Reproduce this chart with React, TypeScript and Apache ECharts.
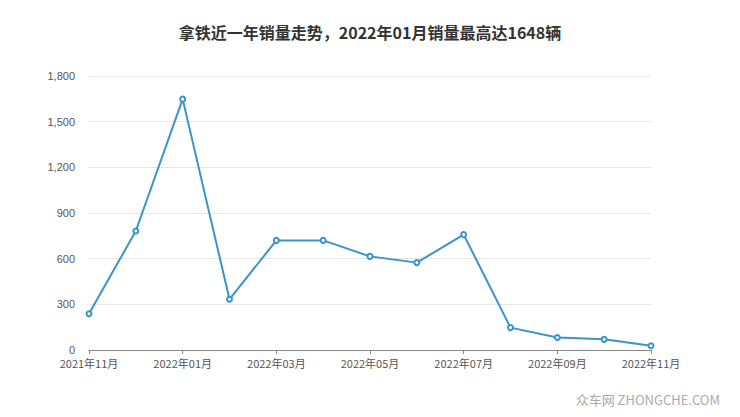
import React, { useEffect, useRef } from "react";
import * as echarts from "echarts";

const months = [
  "2021年11月", "2021年12月", "2022年01月", "2022年02月", "2022年03月", "2022年04月",
  "2022年05月", "2022年06月", "2022年07月", "2022年08月", "2022年09月", "2022年10月", "2022年11月",
];
const sales = [238, 782, 1648, 333, 720, 720, 615, 574, 758, 147, 82, 70, 28];
const titleText = "拿铁近一年销量走势，2022年01月销量最高达1648辆";
const watermark = "众车网 ZHONGCHE.COM";

export default function App() {
  const ref = useRef<HTMLDivElement>(null);
  useEffect(() => {
    if (!ref.current) return;
    const chart = echarts.init(ref.current, undefined, { renderer: "svg" });
    chart.setOption({
      animation: false,
      backgroundColor: "#fff",
      title: {
        text: titleText,
        left: "center",
        top: 19,
        textStyle: { fontSize: 16, fontWeight: "bold", color: "#333", fontFamily: "Noto Sans CJK SC" },
      },
      grid: { left: 89, right: 89, top: 76, bottom: 67 },
      xAxis: {
        type: "category",
        data: months,
        boundaryGap: false,
        axisLine: { lineStyle: { color: "#888" } },
        axisTick: { alignWithLabel: true, interval: 1, length: 4 },
        axisLabel: { interval: 1, color: "#555", fontSize: 11, fontFamily: "Noto Sans CJK SC", margin: 7, lineHeight: 12 },
      },
      yAxis: {
        type: "value",
        min: 0,
        max: 1800,
        interval: 300,
        axisLine: { show: false },
        axisTick: { show: false },
        axisLabel: { color: "#555", fontSize: 11, margin: 14, fontFamily: "Liberation Sans" },
        splitLine: { lineStyle: { color: "#e6e6e6" } },
      },
      graphic: [
        {
          type: "text",
          right: 20,
          bottom: 11,
          style: { text: watermark, fill: "#aaa", fontSize: 13, fontFamily: "Noto Sans CJK SC" },
        },
      ],
      series: [
        {
          type: "line",
          data: sales,
          symbol: "emptyCircle",
          symbolSize: 5,
          showAllSymbol: true,
          lineStyle: { color: "#3a93cc", width: 2 },
          itemStyle: { color: "#3a93cc", borderWidth: 1.5 },
        },
      ],
    });
    return () => chart.dispose();
  }, []);
  return <div ref={ref} style={{ position: "fixed", left: 0, top: 0, width: 740, height: 417 }} />;
}
